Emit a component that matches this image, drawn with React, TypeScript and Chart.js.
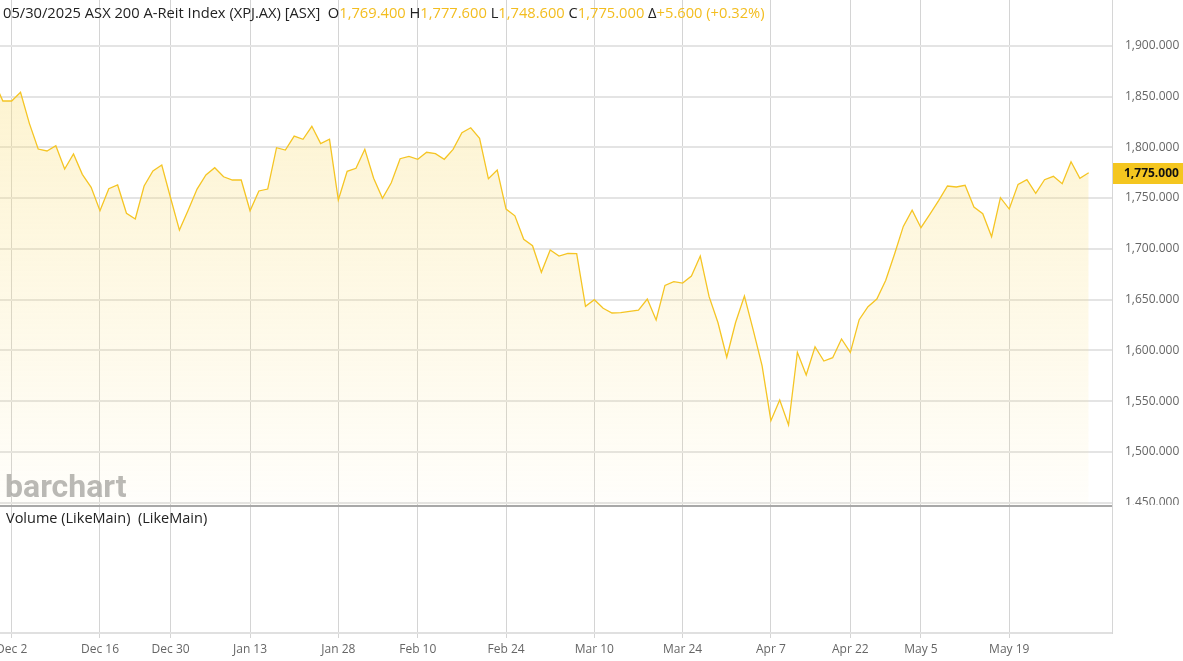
import React, { useEffect, useRef } from 'react';
import { Chart, registerables } from 'chart.js';

Chart.register(...registerables);

// ---- categories: ASX trading days shown in the window ----
const HOLIDAYS = ['2024-12-25', '2024-12-26', '2025-01-01', '2025-01-27', '2025-04-18', '2025-04-21', '2025-04-25'];
function buildTradingDays(start: string, end: string): string[] {
  const out: string[] = [];
  const [sy, sm, sd] = start.split('-').map(Number);
  const [ey, em, ed] = end.split('-').map(Number);
  let t = Date.UTC(sy, sm - 1, sd);
  const stop = Date.UTC(ey, em - 1, ed);
  while (t <= stop) {
    const d = new Date(t);
    const iso = d.toISOString().slice(0, 10);
    const wd = d.getUTCDay();
    if (wd !== 0 && wd !== 6 && HOLIDAYS.indexOf(iso) < 0) out.push(iso);
    t += 86400000;
  }
  return out;
}
const dates = buildTradingDays('2024-11-28', '2025-05-30');

// ---- series: daily close ----
const closes = [
  1865.0, 1845.6, 1845.6, 1854.2, 1823.6, 1798.3, 1796.4, 1801.6, 1778.6, 1793.4,
  1773.4, 1760.6, 1737.6, 1759.2, 1762.9, 1735.0, 1729.4, 1761.9, 1776.7, 1782.6,
  1750.1, 1718.5, 1738.2, 1758.9, 1772.7, 1779.9, 1771.0, 1767.8, 1767.8, 1737.5,
  1757.0, 1758.9, 1799.6, 1797.3, 1811.1, 1807.9, 1820.7, 1803.6, 1807.9, 1748.1,
  1776.4, 1779.3, 1798.0, 1769.5, 1749.8, 1765.1, 1788.8, 1791.1, 1788.2, 1795.1,
  1793.7, 1788.2, 1798.0, 1814.4, 1819.3, 1808.9, 1769.0, 1777.6, 1739.2, 1732.5,
  1709.4, 1703.1, 1676.9, 1698.8, 1692.9, 1695.6, 1695.2, 1643.4, 1649.9, 1641.4,
  1636.8, 1637.1, 1638.5, 1639.5, 1650.6, 1629.9, 1664.0, 1667.6, 1666.3, 1673.2,
  1692.9, 1652.9, 1627.4, 1593.2, 1627.4, 1653.5, 1620.0, 1584.9, 1530.7, 1551.1,
  1526.5, 1598.1, 1575.7, 1603.6, 1589.5, 1592.8, 1611.2, 1598.0, 1630.2, 1643.0,
  1650.6, 1668.8, 1694.7, 1722.1, 1738.0, 1720.8, 1734.0, 1747.5, 1761.9, 1760.9,
  1762.6, 1741.2, 1734.6, 1711.9, 1750.4, 1739.2, 1763.5, 1768.1, 1754.7, 1768.1,
  1771.4, 1764.1, 1785.8, 1769.4, 1775.0,
];

// ---- tick labels ----
const tickDates = ['2024-12-02', '2024-12-16', '2024-12-30', '2025-01-13', '2025-01-28', '2025-02-10', '2025-02-24', '2025-03-10', '2025-03-24', '2025-04-07', '2025-04-22', '2025-05-05', '2025-05-19'];
const tickLabels = ['Dec 2', 'Dec 16', 'Dec 30', 'Jan 13', 'Jan 28', 'Feb 10', 'Feb 24', 'Mar 10', 'Mar 24', 'Apr 7', 'Apr 22', 'May 5', 'May 19'];
const priceTicks = [1450, 1500, 1550, 1600, 1650, 1700, 1750, 1800, 1850, 1900];

// ---- header texts ----
const headerDate = '05/30/2025';
const headerName = 'ASX 200 A-Reit Index (XPJ.AX) [ASX]';
const headerOpen = '1,769.400';
const headerHigh = '1,777.600';
const headerLow = '1,748.600';
const headerClose = '1,775.000';
const headerChange = '+5.600 (+0.32%)';
const volumeTitle = 'Volume (LikeMain)  (LikeMain)';

// ---- view window ----
const viewStart = 0.675;
const viewEnd = 126.64;
const priceMin = 1321.6;
const priceMax = 1945.1;
const paneFloor = 1447.7;

const GOLD = '#f3bd1f';
const LINE = '#f5c524';

const fmt = (v: number) =>
  Number(v).toLocaleString('en-US', { minimumFractionDigits: 3, maximumFractionDigits: 3 });

const tickIdx = tickDates.map((d) => dates.indexOf(d));

const overlay = {
  id: 'overlay',
  beforeDatasetsDraw(chart: any) {
    const { ctx } = chart;
    ctx.save();
    ctx.font = 'bold 32px Roboto';
    ctx.fillStyle = 'rgba(165,165,165,0.8)';
    ctx.textAlign = 'left';
    ctx.textBaseline = 'alphabetic';
    ctx.fillText('barchart', 5, 497);
    ctx.restore();
  },
  afterDraw(chart: any) {
    const { ctx, chartArea: ca, scales } = chart;
    const y = scales.y;
    const pb = y.getPixelForValue(paneFloor);
    ctx.save();
    ctx.fillStyle = '#fff';
    ctx.fillRect(ca.right + 1, pb, chart.width - ca.right, 24);
    ctx.strokeStyle = '#a8a8a8';
    ctx.lineWidth = 2;
    ctx.beginPath();
    ctx.moveTo(0, Math.round(pb) + 1);
    ctx.lineTo(ca.right, Math.round(pb) + 1);
    ctx.stroke();
    const last = closes[closes.length - 1];
    const py = y.getPixelForValue(last);
    ctx.fillStyle = '#f4c61f';
    ctx.fillRect(ca.right + 1, Math.round(py) - 10, chart.width - ca.right, 21);
    ctx.fillStyle = '#111';
    ctx.font = 'bold 12px "Open Sans"';
    ctx.textAlign = 'left';
    ctx.textBaseline = 'middle';
    ctx.fillText(fmt(last), ca.right + 12, py + 0.5);
    ctx.restore();
  },
};

export default function App() {
  const ref = useRef<HTMLCanvasElement | null>(null);
  useEffect(() => {
    if (!ref.current) return;
    Chart.defaults.font.family = "'Open Sans', sans-serif";
    const chart = new Chart(ref.current, {
      type: 'line',
      data: {
        datasets: [
          {
            data: closes.map((v, i) => ({ x: i, y: v })),
            borderColor: LINE,
            borderWidth: 1.3,
            pointRadius: 0,
            tension: 0,
            fill: { target: { value: paneFloor } },
            backgroundColor: (c: any) => {
              const ch = c.chart;
              const g = ch.ctx.createLinearGradient(0, 90, 0, 505);
              g.addColorStop(0, 'rgba(250,222,120,0.34)');
              g.addColorStop(1, 'rgba(250,222,120,0.03)');
              return g;
            },
          },
        ],
      },
      options: {
        animation: false,
        responsive: false,
        devicePixelRatio: 1,
        layout: { padding: 0 },
        plugins: { legend: { display: false }, tooltip: { enabled: false }, title: { display: false } },
        scales: {
          x: {
            type: 'linear',
            position: 'bottom',
            min: viewStart,
            max: viewEnd,
            afterBuildTicks: (s: any) => {
              s.ticks = tickIdx.map((v) => ({ value: v }));
            },
            afterFit: (s: any) => {
              s.height = 28;
              s.paddingLeft = 0;
              s.paddingRight = 0;
            },
            ticks: {
              autoSkip: false,
              maxRotation: 0,
              minRotation: 0,
              padding: 4,
              color: '#666',
              font: { size: 12 },
              callback: (v: any) => {
                const k = tickIdx.indexOf(v);
                return k >= 0 ? tickLabels[k] : '';
              },
            },
            grid: { color: '#d4d4d4', lineWidth: 1, tickLength: 5, drawTicks: true },
            border: { display: true, color: '#e0e0e0', width: 2 },
          },
          y: {
            type: 'linear',
            position: 'right',
            min: priceMin,
            max: priceMax,
            afterBuildTicks: (s: any) => {
              s.ticks = priceTicks.map((v) => ({ value: v }));
            },
            afterFit: (s: any) => {
              s.width = 71;
              s.paddingTop = 0;
              s.paddingBottom = 0;
            },
            ticks: { padding: 13, color: '#666', font: { size: 12 }, callback: (v: any) => fmt(v) },
            grid: { color: '#e4e4e4', lineWidth: 2, drawTicks: false },
            border: { display: true, color: '#d6d6d6', width: 1 },
          },
        },
      } as any,
      plugins: [overlay],
    });
    return () => chart.destroy();
  }, []);

  const gold = { color: GOLD };
  return (
    <div style={{ position: 'absolute', left: 0, top: 0, width: 1183, height: 661, background: '#fff', overflow: 'hidden' }}>
      <canvas ref={ref} width={1183} height={661} style={{ position: 'absolute', left: 0, top: 0, width: 1183, height: 661 }} />
      <div
        style={{
          position: 'absolute',
          left: 3,
          top: 2,
          font: '14.7px "Open Sans", sans-serif',
          lineHeight: '20px',
          color: '#222',
          whiteSpace: 'pre',
        }}
      >
        {headerDate} {headerName}  O<span style={gold}>{headerOpen}</span> H<span style={gold}>{headerHigh}</span> L
        <span style={gold}>{headerLow}</span> C<span style={gold}>{headerClose}</span> Δ<span style={gold}>{headerChange}</span>
      </div>
      <div
        style={{
          position: 'absolute',
          left: 6,
          top: 508,
          font: '14.5px "Open Sans", sans-serif',
          lineHeight: '20px',
          color: '#222',
          whiteSpace: 'pre',
        }}
      >
        {volumeTitle}
      </div>
    </div>
  );
}
